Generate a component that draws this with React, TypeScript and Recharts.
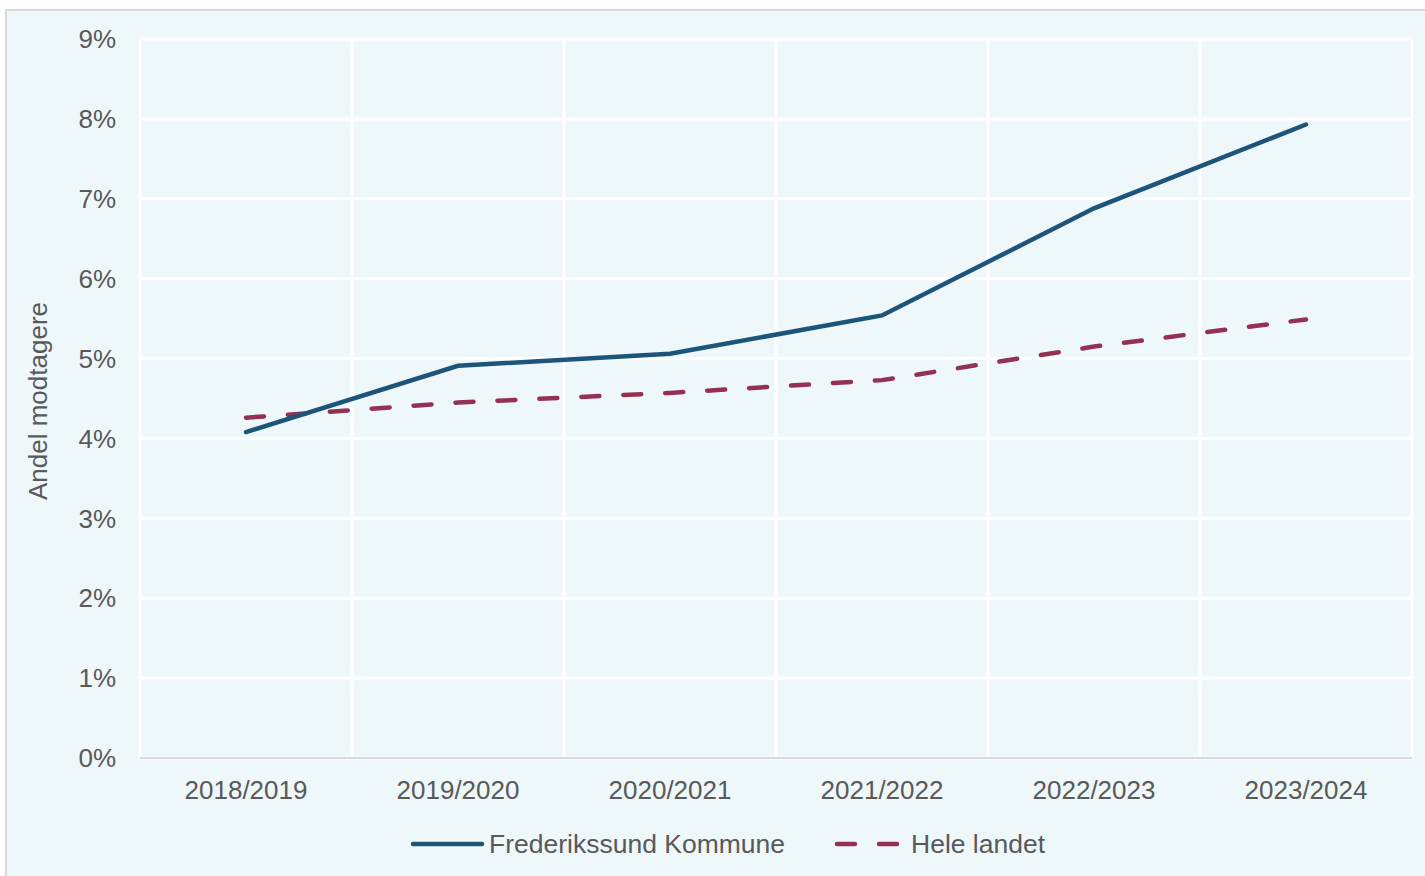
import React from 'react';
import { LineChart, Line, XAxis, YAxis, CartesianGrid } from 'recharts';

const seasons = ['2018/2019', '2019/2020', '2020/2021', '2021/2022', '2022/2023', '2023/2024'];
const frederikssund = [0.0408, 0.0491, 0.0506, 0.0554, 0.0688, 0.0793];
const heleLandet = [0.0426, 0.0445, 0.0457, 0.0473, 0.0515, 0.0549];
const yTicks = [0, 0.01, 0.02, 0.03, 0.04, 0.05, 0.06, 0.07, 0.08, 0.09];

const BLUE = '#1D5479';
const RED = '#943152';
const TEXT = '#595959';
const FONT = '"Liberation Sans", Arial, sans-serif';

const data = seasons.map((s, i) => ({
  pos: i + 0.5,
  season: s,
  frederikssund: frederikssund[i],
  hele: heleLandet[i],
}));

const xTicks = data.map((d) => d.pos);
const boundaries = [0, 1, 2, 3, 4, 5, 6];

const App: React.FC = () => {
  const tickStyle = { fill: TEXT, fontSize: 26, fontFamily: FONT };

  return (
    <div style={{ position: 'absolute', left: 0, top: 0, width: 1425, height: 876, overflow: 'hidden', background: '#fff' }}>
      <div
        style={{
          position: 'absolute', left: 5, top: 9, width: 1440, height: 890,
          background: '#EEF7FA', border: '2px solid #D9D9D9', boxSizing: 'border-box',
        }}
      />
      <div style={{ position: 'absolute', left: 0, top: 0 }}>
        <LineChart width={1425} height={876} data={data} margin={{ top: 39, right: 13, bottom: 0, left: 0 }}>
          <CartesianGrid
            stroke="#FFFFFF"
            strokeWidth={3}
            verticalCoordinatesGenerator={(props: any) => {
              const { offset } = props;
              return boundaries.map((b) => offset.left + (offset.width * b) / 6);
            }}
          />
          <XAxis
            type="number"
            dataKey="pos"
            domain={[0, 6]}
            ticks={xTicks}
            tickFormatter={(v: number) => seasons[Math.floor(v)]}
            height={118}
            tickLine={false}
            tickSize={0}
            tickMargin={23}
            axisLine={{ stroke: '#D9D9D9', strokeWidth: 2 }}
            tick={tickStyle}
            interval={0}
          />
          <YAxis
            domain={[0, 0.09]}
            ticks={yTicks}
            width={140}
            tickLine={false}
            tickSize={0}
            tickMargin={24}
            axisLine={false}
            tick={tickStyle}
            tickFormatter={(v: number) => `${Math.round(v * 100)}%`}
            interval={0}
          />
          <Line
            type="linear"
            dataKey="hele"
            stroke={RED}
            strokeWidth={4.5}
            strokeDasharray="18 24"
            strokeLinecap="round"
            dot={false}
            isAnimationActive={false}
          />
          <Line
            type="linear"
            dataKey="frederikssund"
            stroke={BLUE}
            strokeWidth={4.5}
            strokeLinecap="round"
            dot={false}
            isAnimationActive={false}
          />
        </LineChart>
      </div>
      <div
        style={{
          position: 'absolute', left: 38, top: 401, transform: 'translate(-50%, -50%) rotate(-90deg)',
          whiteSpace: 'nowrap', color: TEXT, fontSize: 26, fontFamily: FONT, lineHeight: 1,
        }}
      >
        Andel modtagere
      </div>
      <svg style={{ position: 'absolute', left: 0, top: 823 }} width={1425} height={45}>
        <line x1={413} y1={21} x2={482} y2={21} stroke={BLUE} strokeWidth={4.5} strokeLinecap="round" />
        <text x={489} y={30} fill={TEXT} fontSize={26.5} fontFamily={FONT}>Frederikssund Kommune</text>
        <line x1={837} y1={21} x2={897} y2={21} stroke={RED} strokeWidth={4.5} strokeLinecap="round" strokeDasharray="18 24" />
        <text x={911} y={30} fill={TEXT} fontSize={26.5} fontFamily={FONT}>Hele landet</text>
      </svg>
    </div>
  );
};

export default App;
